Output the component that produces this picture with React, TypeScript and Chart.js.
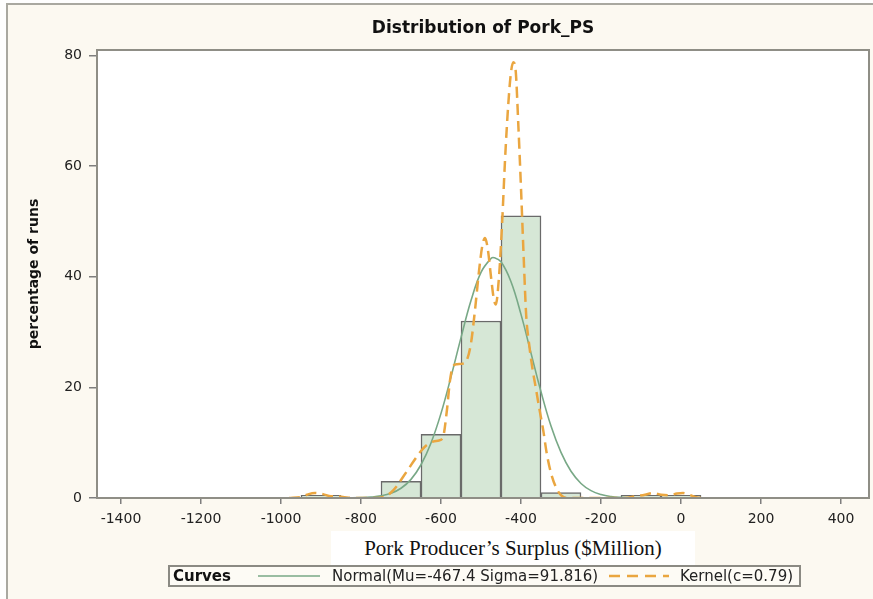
import React, { useEffect, useRef } from "react";
import { Chart, registerables } from "chart.js";

Chart.register(...registerables);

const TITLE = "Distribution of Pork_PS";
const Y_TITLE = "percentage of runs";
const X_TITLE = "Pork Producer\u2019s Surplus ($Million)";
const LEGEND_TITLE = "Curves";
const LEGEND_NORMAL = "Normal(Mu=-467.4 Sigma=91.816)";
const LEGEND_KERNEL = "Kernel(c=0.79)";

const X_TICKS = [-1400, -1200, -1000, -800, -600, -400, -200, 0, 200, 400];
const Y_TICKS = [0, 20, 40, 60, 80];

const BIN_MIDPOINTS = [-900, -700, -600, -500, -400, -300, -100, 0];
const BIN_PERCENTS = [0.5, 3, 11.5, 32, 51, 1.0, 0.5, 0.5];

const NORMAL_X = [-850, -825, -800, -775, -750, -725, -700, -675, -650, -625, -600, -575, -550, -525, -500, -475, -467.4, -450, -425, -400, -375, -350, -325, -300, -275, -250, -225, -200, -175, -150, -125, -100];
const NORMAL_Y = [0.01, 0.02, 0.06, 0.16, 0.38, 0.85, 1.76, 3.37, 6.01, 9.95, 15.3, 21.9, 29.0, 35.7, 40.8, 43.3, 43.45, 42.7, 39.1, 33.2, 26.2, 19.2, 13.0, 8.24, 4.83, 2.63, 1.33, 0.63, 0.27, 0.11, 0.04, 0.01];

const KERNEL_X = [-980, -950, -935, -915, -895, -875, -860, -845, -820, -760, -740, -725, -710, -695, -680, -665, -650, -635, -620, -605, -595, -585, -578, -570, -560, -545, -535, -525, -515, -505, -497, -490, -483, -475, -468, -463, -455, -447, -440, -432, -425, -419, -413, -407, -400, -393, -387, -380, -372, -362, -355, -345, -335, -325, -313, -300, -285, -140, -115, -90, -70, -50, -30, -10, 5, 20, 40, 60];
const KERNEL_Y = [0, 0.2, 0.6, 0.9, 0.7, 0.3, 0.3, 0.2, 0, 0, 0.3, 1.0, 2.2, 3.8, 5.4, 7.0, 8.5, 9.6, 10.2, 10.4, 11, 16, 21, 23.8, 24.2, 24.3, 25, 28, 34, 41, 45.5, 47, 45, 40, 36, 35, 40, 50, 61, 71, 77, 78.8, 77, 68, 56, 43, 33, 28, 23.7, 19.5, 16.5, 12.5, 7.8, 4.5, 2, 0.5, 0, 0, 0.3, 0.6, 0.9, 0.6, 0.5, 0.8, 0.9, 0.6, 0.1, 0];

const SANS = "'DejaVu Sans', sans-serif";

const framePlugin = {
  id: "frame",
  beforeDraw(chart: any) {
    const { ctx, chartArea: a } = chart;
    ctx.save();
    ctx.fillStyle = "#ffffff";
    ctx.fillRect(a.left, a.top, a.right - a.left, a.bottom - a.top);
    ctx.restore();
  },
  afterDraw(chart: any) {
    const { ctx, chartArea: a } = chart;
    ctx.save();
    ctx.strokeStyle = "#8f8e86";
    ctx.lineWidth = 2;
    ctx.strokeRect(a.left, a.top, a.right - a.left, a.bottom - a.top);
    ctx.fillStyle = "#111111";
    ctx.font = "bold 17px 'DejaVu Sans'";
    ctx.textAlign = "center";
    ctx.textBaseline = "middle";
    ctx.fillText(TITLE, (a.left + a.right) / 2, 29);
    ctx.restore();
  },
};

export default function App() {
  const canvasRef = useRef<HTMLCanvasElement | null>(null);

  useEffect(() => {
    if (!canvasRef.current) return;
    const chart = new Chart(canvasRef.current, {
      type: "bar",
      data: {
        datasets: [
          {
            type: "line",
            label: LEGEND_KERNEL,
            data: KERNEL_X.map((x, i) => ({ x, y: KERNEL_Y[i] })),
            borderColor: "#eaa640",
            borderWidth: 2.5,
            borderDash: [11, 6],
            pointRadius: 0,
            cubicInterpolationMode: "monotone",
            fill: false,
            order: 1,
          } as any,
          {
            type: "line",
            label: LEGEND_NORMAL,
            data: NORMAL_X.map((x, i) => ({ x, y: NORMAL_Y[i] })),
            borderColor: "#78a886",
            borderWidth: 1.6,
            pointRadius: 0,
            tension: 0.4,
            fill: false,
            order: 2,
          } as any,
          {
            type: "bar",
            label: "Percent",
            data: BIN_MIDPOINTS.map((x, i) => ({ x, y: BIN_PERCENTS[i] })),
            backgroundColor: "#d6e7d6",
            borderColor: "#6a6a6a",
            borderWidth: 1.5,
            barPercentage: 1,
            categoryPercentage: 1,
            order: 3,
          } as any,
        ],
      },
      options: {
        animation: false,
        responsive: false,
        maintainAspectRatio: false,
        devicePixelRatio: 1,
        layout: { padding: { top: 50, right: 4, left: 0, bottom: 0 } },
        plugins: {
          legend: { display: false },
          tooltip: { enabled: false },
          title: { display: false },
        },
        scales: {
          x: {
            type: "linear",
            min: -1460,
            max: 470,
            offset: false,
            afterBuildTicks: (s: any) => {
              s.ticks = X_TICKS.map((v) => ({ value: v }));
            },
            afterFit: (s: any) => {
              s.height = 101;
            },
            grid: {
              drawOnChartArea: false,
              drawTicks: true,
              tickLength: 6,
              color: "#7e7e7e",
              lineWidth: 1.5,
              offset: false,
            },
            border: { display: false },
            ticks: {
              font: { family: SANS, size: 14 },
              color: "#222222",
              padding: 7,
              maxRotation: 0,
              autoSkip: false,
              callback: (v: any) => String(v),
            },
          },
          y: {
            type: "linear",
            min: 0,
            max: 81,
            afterBuildTicks: (s: any) => {
              s.ticks = Y_TICKS.map((v) => ({ value: v }));
            },
            afterFit: (s: any) => {
              s.width = 97;
            },
            grid: {
              drawOnChartArea: false,
              drawTicks: true,
              tickLength: 8,
              color: "#7e7e7e",
              lineWidth: 1.5,
            },
            border: { display: false },
            ticks: {
              font: { family: SANS, size: 14 },
              color: "#222222",
              padding: 7,
              callback: (v: any) => String(v),
            },
            title: {
              display: true,
              text: Y_TITLE,
              font: { family: SANS, size: 14, weight: "bold" },
              color: "#111111",
              padding: { top: 26, bottom: 0 },
            },
          },
        },
      } as any,
      plugins: [framePlugin],
    });
    return () => chart.destroy();
  }, []);

  return (
    <div
      style={{
        position: "absolute",
        left: 0,
        top: 0,
        width: 873,
        height: 599,
        background: "#fefefe",
        overflow: "hidden",
      }}
    >
      <div
        style={{
          position: "absolute",
          left: 6,
          top: 3,
          width: 873,
          height: 599,
          borderLeft: "2px solid #a9a8a0",
          borderTop: "2px solid #a9a8a0",
          background: "#fcf9f1",
        }}
      />
      <canvas
        ref={canvasRef}
        width={873}
        height={599}
        style={{ position: "absolute", left: 0, top: 0, width: 873, height: 599 }}
      />
      <div
        style={{
          position: "absolute",
          left: 331,
          top: 531,
          width: 364,
          height: 35,
          background: "#ffffff",
          fontFamily: "'Liberation Serif', serif",
          fontSize: 21,
          color: "#111111",
          lineHeight: "35px",
          textAlign: "center",
          whiteSpace: "nowrap",
        }}
      >
        {X_TITLE}
      </div>
      <div
        style={{
          position: "absolute",
          left: 168,
          top: 565,
          width: 633,
          height: 22,
          boxSizing: "border-box",
          border: "2px solid #8b8a83",
          background: "#fdfbf5",
          fontFamily: SANS,
          fontSize: 15,
          color: "#222222",
          lineHeight: "18px",
          whiteSpace: "nowrap",
        }}
      >
        <span style={{ position: "absolute", left: 3, top: 0, fontWeight: "bold", color: "#111111" }}>
          {LEGEND_TITLE}
        </span>
        <svg style={{ position: "absolute", left: 88, top: 0 }} width={62} height={18}>
          <line x1={0} y1={9} x2={62} y2={9} stroke="#78a886" strokeWidth={1.6} />
        </svg>
        <span style={{ position: "absolute", left: 162, top: 0 }}>{LEGEND_NORMAL}</span>
        <svg style={{ position: "absolute", left: 439, top: 0 }} width={60} height={18}>
          <line x1={0} y1={9} x2={60} y2={9} stroke="#eaa640" strokeWidth={2.5} strokeDasharray="11 7" />
        </svg>
        <span style={{ position: "absolute", left: 510, top: 0 }}>{LEGEND_KERNEL}</span>
      </div>
    </div>
  );
}
